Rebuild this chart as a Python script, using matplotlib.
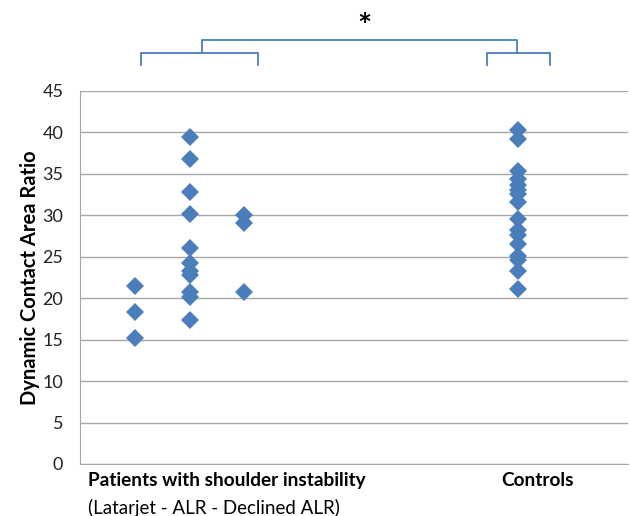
import matplotlib.pyplot as plt

FONT = 'Lato'
BLUE = '#4A7EBB'

# group positions on a 0-10 x scale (no x ticks shown)
latarjet_x = 1
alr_x = 2
declined_x = 3
controls_x = 8

latarjet = [21.5, 18.3, 15.2]
alr = [39.5, 36.8, 32.8, 30.1, 26.1, 24.2, 23.3, 22.8, 20.8, 20.2, 17.4]
declined = [30.0, 29.1, 20.7]
controls = [40.3, 39.2, 35.3, 34.4, 33.6, 33.0, 32.6, 31.6, 29.6, 28.2,
            27.6, 26.5, 25.1, 24.6, 23.3, 21.1]

yticks = [0, 5, 10, 15, 20, 25, 30, 35, 40, 45]

fig = plt.figure(figsize=(6.3, 5.16), dpi=100)
ax = fig.add_axes([0.127, 0.1008, 0.870, 0.723])

for xpos, vals in [(latarjet_x, latarjet), (alr_x, alr),
                   (declined_x, declined), (controls_x, controls)]:
    ax.plot([xpos] * len(vals), vals, linestyle='none', marker='D',
            ms=9, color=BLUE, markeredgewidth=0, zorder=3)

ax.set_xlim(0, 10)
ax.set_ylim(0, 45)
ax.set_yticks(yticks)
ax.set_yticklabels([str(v) for v in yticks], fontsize=13, family=FONT, color='#222222')
ax.set_xticks([])
ax.grid(axis='y', color='#A6A6A6', linewidth=1)
ax.set_axisbelow(True)
for s in ['top', 'right']:
    ax.spines[s].set_visible(False)
for s in ['left', 'bottom']:
    ax.spines[s].set_color('#A6A6A6')
ax.tick_params(axis='y', length=0, pad=12)

ax.set_ylabel('Dynamic Contact Area Ratio', fontsize=14.5, fontweight='bold',
              family=FONT, labelpad=2)

# category labels
ax.text(0.15, -2.05, 'Patients with shoulder instability', fontsize=13.7,
        fontweight='bold', family=FONT, va='center', ha='left', clip_on=False)
ax.text(0.15, -5.3, '(Latarjet - ALR - Declined ALR)', fontsize=13.5,
        family=FONT, va='center', ha='left', clip_on=False)
ax.text(8.35, -2.05, 'Controls', fontsize=13.7, fontweight='bold',
        family=FONT, va='center', ha='center', clip_on=False)

# significance brackets
lw = 1.3
ax.plot([1.11, 1.11, 3.25, 3.25], [48.1, 49.6, 49.6, 48.1], color=BLUE,
        lw=lw, clip_on=False)
ax.plot([7.43, 7.43, 8.58, 8.58], [48.1, 49.6, 49.6, 48.1], color=BLUE,
        lw=lw, clip_on=False)
ax.plot([2.23, 2.23, 7.97, 7.97], [49.6, 51.1, 51.1, 49.6], color=BLUE,
        lw=lw, clip_on=False)
ax.text(5.185, 52.6, '*', fontsize=24, fontweight='bold', ha='center',
        va='center', family=FONT, clip_on=False)

fig.savefig('out.png', dpi=100)
